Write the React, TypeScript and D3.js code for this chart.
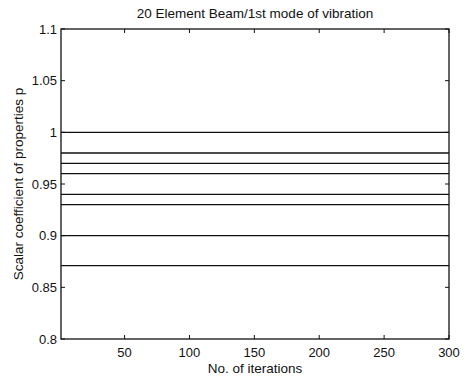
import React from "react";
import * as d3 from "d3";

// Converged scalar coefficients for each property, constant over all iterations
const coefficients = [1.0, 0.98, 0.97, 0.96, 0.94, 0.93, 0.9, 0.871];
const iterationRange = [1, 300];
const xTicks = [50, 100, 150, 200, 250, 300];
const yTicks = [0.8, 0.85, 0.9, 0.95, 1, 1.05, 1.1];

const W = 475;
const H = 382;
const margin = { left: 61, right: 26, top: 29, bottom: 43 };

export default function App() {
  const x = d3
    .scaleLinear()
    .domain(iterationRange)
    .range([margin.left, W - margin.right]);
  const y = d3
    .scaleLinear()
    .domain([0.8, 1.1])
    .range([H - margin.bottom, margin.top]);

  const iterations = d3.range(iterationRange[0], iterationRange[1] + 1);

  const font = "'Liberation Sans', Arial, sans-serif";
  const x0 = x.range()[0];
  const x1 = x.range()[1];
  const y0 = y.range()[0];
  const y1 = y.range()[1];
  const tick = 4;

  return (
    <svg
      width={W}
      height={H}
      style={{ position: "absolute", left: 0, top: 0, background: "#fff" }}
      fontFamily={font}
    >
      <rect width={W} height={H} fill="#fff" />
      {/* property curves */}
      {coefficients.map((c, i) => (
        <path
          key={i}
          d={
            d3
              .line<number>()
              .x((d) => x(d))
              .y(() => y(c))(iterations) || ""
          }
          fill="none"
          stroke="#111"
          strokeWidth={1.4}
        />
      ))}
      {/* axes box */}
      <rect
        x={x0}
        y={y1}
        width={x1 - x0}
        height={y0 - y1}
        fill="none"
        stroke="#111"
        strokeWidth={1.3}
      />
      {xTicks.map((t) => (
        <g key={t}>
          <line x1={x(t)} x2={x(t)} y1={y0} y2={y0 - tick} stroke="#111" />
          <line x1={x(t)} x2={x(t)} y1={y1} y2={y1 + tick} stroke="#111" />
          <text
            x={x(t)}
            y={y0 + 18}
            textAnchor="middle"
            fontSize={13}
            fill="#111"
          >
            {t}
          </text>
        </g>
      ))}
      {yTicks.map((t) => (
        <g key={t}>
          <line x1={x0} x2={x0 + tick} y1={y(t)} y2={y(t)} stroke="#111" />
          <line x1={x1} x2={x1 - tick} y1={y(t)} y2={y(t)} stroke="#111" />
          <text
            x={x0 - 4}
            y={y(t) + 4.5}
            textAnchor="end"
            fontSize={13}
            fill="#111"
          >
            {String(t)}
          </text>
        </g>
      ))}
      <text
        x={(x0 + x1) / 2}
        y={18}
        textAnchor="middle"
        fontSize={13.5}
        fill="#111"
      >
        20 Element Beam/1st mode of vibration
      </text>
      <text
        x={(x0 + x1) / 2}
        y={373}
        textAnchor="middle"
        fontSize={13.5}
        fill="#111"
      >
        No. of iterations
      </text>
      <text
        transform={`translate(23, ${(y0 + y1) / 2}) rotate(-90)`}
        textAnchor="middle"
        fontSize={13.5}
        fill="#111"
      >
        Scalar coefficient of properties p
      </text>
    </svg>
  );
}
